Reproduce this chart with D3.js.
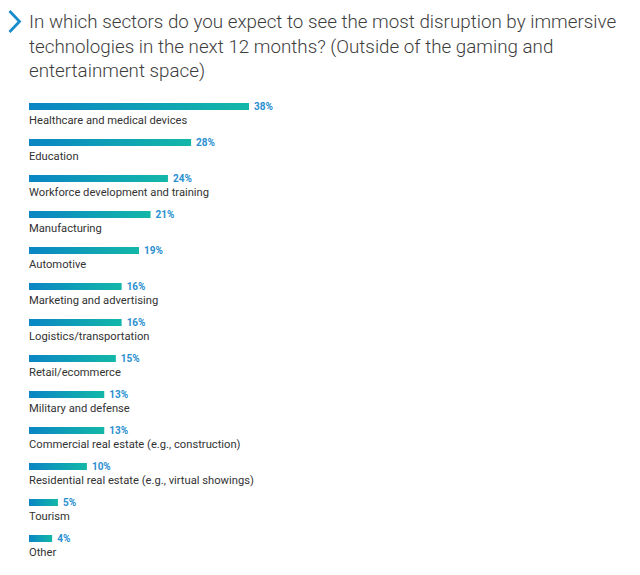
<!DOCTYPE html>
<html>
<head>
<meta charset="utf-8">
<script src="https://cdn.jsdelivr.net/npm/d3@7"></script>
<style>
  body { margin: 0; background: #fff; }
  svg { display: block; }
</style>
</head>
<body>
<svg id="chart" width="640" height="575"></svg>
<script>
var titleLines = [
	"In which sectors do you expect to see the most disruption by immersive",
	"technologies in the next 12 months? (Outside of the gaming and",
	"entertainment space)"
];
var sectors = [
	"Healthcare and medical devices",
	"Education",
	"Workforce development and training",
	"Manufacturing",
	"Automotive",
	"Marketing and advertising",
	"Logistics/transportation",
	"Retail/ecommerce",
	"Military and defense",
	"Commercial real estate (e.g., construction)",
	"Residential real estate (e.g., virtual showings)",
	"Tourism",
	"Other"
];
var percents = [38, 28, 24, 21, 19, 16, 16, 15, 13, 13, 10, 5, 4];

var svg = d3.select('#chart');
var font = "Roboto, 'Noto Sans', sans-serif";

var defs = svg.append("defs");
var grad = defs.append("linearGradient")
	.attr("id", "barGrad")
	.attr("x1", "0%").attr("x2", "100%")
	.attr("y1", "0%").attr("y2", "0%");
grad.append("stop").attr("offset", "0%").attr("stop-color", "#0a85c4");
grad.append("stop").attr("offset", "100%").attr("stop-color", "#13b8a8");

// chevron
svg.append("path")
	.attr("d", "M9.5,11 L19.5,21.5 L9.5,32")
	.attr("fill", "none")
	.attr("stroke", "#1a8ccc")
	.attr("stroke-width", 2.8);

svg.append("g").selectAll("text")
	.data(titleLines)
	.enter()
	.append("text")
	.attr("x", 29)
	.attr("y", function(d, i) { return 28 + i * 24.5; })
	.attr("font-family", font)
	.attr("font-size", 18.8)
	.attr("font-weight", 300)
	.attr("fill", "#3d3d3d")
	.text(function(d) { return d; });

var x = d3.scaleLinear().domain([0, 38]).range([29, 249]);
var y = d3.scaleBand().domain(sectors).range([103, 103 + 36 * sectors.length]);

var data = sectors.map(function(s, i) { return {name: s, value: percents[i]}; });

var row = svg.append("g").selectAll(".row")
	.data(data)
	.enter()
	.append("g")
	.attr("class", "row");

row.append("rect")
	.attr("x", x(0))
	.attr("y", function(d) { return y(d.name); })
	.attr("width", function(d) { return x(d.value) - x(0); })
	.attr("height", 7)
	.attr("fill", "url(#barGrad)");

row.append("text")
	.attr("x", function(d) { return x(d.value) + 5; })
	.attr("y", function(d) { return y(d.name) + 7; })
	.attr("font-family", font)
	.attr("font-size", 10)
	.attr("font-weight", "bold")
	.attr("fill", "#2a8fd0")
	.text(function(d) { return d.value + "%"; });

row.append("text")
	.attr("x", 29)
	.attr("y", function(d) { return y(d.name) + 21; })
	.attr("font-family", font)
	.attr("font-size", 11.2)
	.attr("fill", "#333")
	.text(function(d) { return d.name; });
</script>
</body>
</html>
